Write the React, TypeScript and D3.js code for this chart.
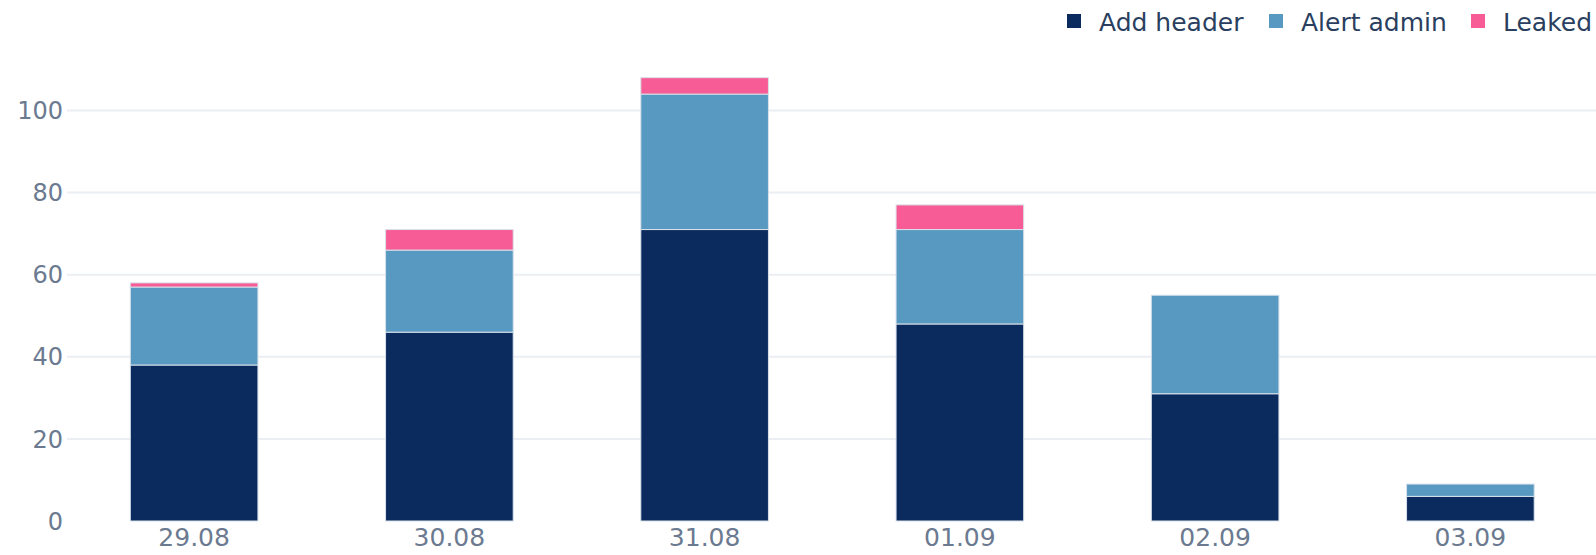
import React, { useEffect, useRef } from "react";
import * as d3 from "d3";

const dates = ["29.08", "30.08", "31.08", "01.09", "02.09", "03.09"];
const addHeader = [38, 46, 71, 48, 31, 6];
const alertAdmin = [19, 20, 33, 23, 24, 3];
const leaked = [1, 5, 4, 6, 0, 0];
const seriesNames = ["Add header", "Alert admin", "Leaked"];
const seriesColors = ["#0b2a5e", "#5799c0", "#f75c96"];
const yTicks = [0, 20, 40, 60, 80, 100];

export default function App() {
  const ref = useRef<SVGSVGElement>(null);

  useEffect(() => {
    const width = 1596;
    const svg = d3.select(ref.current);
    svg.selectAll("*").remove();

    const rows = dates.map((d, i) => ({
      date: d,
      "Add header": addHeader[i],
      "Alert admin": alertAdmin[i],
      Leaked: leaked[i],
    }));

    const x = d3.scaleBand().domain(dates).range([66.5, 1598]).paddingInner(0.5).paddingOuter(0.25);
    const y = d3.scaleLinear().domain([0, 100]).range([521, 110.5]);

    // gridlines
    svg.append("g")
      .selectAll("line")
      .data(yTicks.filter(t => t > 0))
      .enter()
      .append("line")
      .attr("x1", 67)
      .attr("x2", width)
      .attr("y1", d => y(d))
      .attr("y2", d => y(d))
      .attr("stroke", "#ebeef2")
      .attr("stroke-width", 2);

    // y labels
    svg.append("g")
      .selectAll("text")
      .data(yTicks)
      .enter()
      .append("text")
      .attr("x", 63)
      .attr("y", d => y(d))
      .attr("dy", "0.36em")
      .attr("text-anchor", "end")
      .attr("fill", "#6b7a90")
      .style("font-size", "24px")
      .text(d => d);

    // stacked bars
    const stacked = d3.stack<any>().keys(seriesNames)(rows);
    svg.append("g")
      .selectAll("g")
      .data(stacked)
      .enter()
      .append("g")
      .attr("fill", (d, i) => seriesColors[i])
      .selectAll("rect")
      .data(d => d.filter(s => s[1] - s[0] > 0))
      .enter()
      .append("rect")
      .attr("x", d => x(d.data.date)!)
      .attr("width", x.bandwidth())
      .attr("y", d => y(d[1]))
      .attr("height", d => y(d[0]) - y(d[1]))
      .attr("stroke", "#d8e1ea")
      .attr("stroke-width", 1);

    // x labels
    svg.append("g")
      .selectAll("text")
      .data(dates)
      .enter()
      .append("text")
      .attr("x", d => x(d)! + x.bandwidth() / 2)
      .attr("y", 546)
      .attr("text-anchor", "middle")
      .attr("fill", "#6b7a90")
      .style("font-size", "25px")
      .text(d => d);

    // legend
    const legendX = [1067, 1269, 1471];
    const legend = svg.append("g")
      .selectAll("g")
      .data(seriesNames)
      .enter()
      .append("g")
      .attr("transform", (d, i) => `translate(${legendX[i]},0)`);
    legend.append("rect")
      .attr("x", 0)
      .attr("y", 14)
      .attr("width", 14)
      .attr("height", 14)
      .attr("fill", (d, i) => seriesColors[i]);
    legend.append("text")
      .attr("x", 32)
      .attr("y", 22)
      .attr("dy", "0.36em")
      .attr("fill", "#2a3f5f")
      .style("font-size", "25px")
      .text(d => d);
  }, []);

  return (
    <div style={{ position: "fixed", left: 0, top: 0, width: 1596, height: 555, background: "#fff" }}>
      <svg ref={ref} width={1596} height={555} style={{ fontFamily: "'DejaVu Sans', sans-serif", display: "block" }} />
    </div>
  );
}
